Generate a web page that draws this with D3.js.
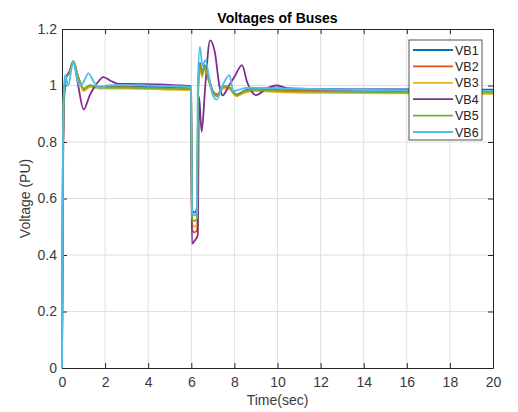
<!DOCTYPE html>
<html>
<head>
<meta charset="utf-8">
<script src="https://cdn.jsdelivr.net/npm/d3@7"></script>
<style>
  body { margin: 0; background: #fff; }
  svg { display: block; font-family: "Liberation Sans", Arial, sans-serif; }
</style>
</head>
<body>
<svg id="chart" width="518" height="412"></svg>
<script>
// ---- data: [time (s), voltage (pu)] ----
const seriesNames = ["VB1", "VB2", "VB3", "VB4", "VB5", "VB6"];
const seriesColors = ["#0072BD", "#D95319", "#EDB120", "#7E2F8E", "#77AC30", "#4DBEEE"];

const vb1 = [[0,0],[0.04,0.7],[0.1,0.98],[0.2,1.03],[0.35,1.045],[0.52,1.085],[0.75,1.03],[1.0,0.988],[1.3,1.0],[1.7,0.996],[2.2,0.996],[3,0.997],[4,0.995],[5,0.993],[5.99,0.99],
  [6.03,0.56],[6.15,0.55],[6.27,0.57],[6.32,1.0],[6.4,1.08],[6.5,1.045],[6.62,1.072],[6.8,1.03],[7.0,0.98],[7.2,0.968],[7.5,0.996],[7.7,0.996],[8.1,0.968],[8.5,0.983],[9,0.99],[10,0.99],[12,0.987],[16,0.986],[20,0.985]];
const vb2 = [[0,0],[0.04,0.7],[0.1,0.98],[0.2,1.03],[0.35,1.045],[0.52,1.085],[0.75,1.03],[1.0,0.985],[1.3,0.998],[1.7,0.994],[2.2,0.993],[3,0.994],[4,0.992],[5,0.99],[5.99,0.988],
  [6.03,0.49],[6.15,0.48],[6.28,0.49],[6.32,1.0],[6.4,1.075],[6.5,1.04],[6.62,1.07],[6.8,1.03],[7.0,0.978],[7.2,0.966],[7.5,0.994],[7.7,0.994],[8.1,0.966],[8.5,0.98],[9,0.986],[10,0.984],[12,0.981],[16,0.979],[20,0.978]];
const vb3 = [[0,0],[0.04,0.7],[0.1,0.98],[0.2,1.03],[0.35,1.045],[0.52,1.085],[0.75,1.03],[1.0,0.98],[1.3,0.995],[1.7,0.99],[2.2,0.989],[3,0.989],[4,0.987],[5,0.985],[5.99,0.983],
  [6.03,0.51],[6.15,0.5],[6.28,0.51],[6.32,0.98],[6.4,1.065],[6.5,1.03],[6.62,1.06],[6.8,1.02],[7.0,0.972],[7.2,0.962],[7.5,0.99],[7.7,0.99],[8.1,0.962],[8.5,0.975],[9,0.98],[10,0.977],[12,0.974],[16,0.972],[20,0.97]];
const vb4 = [[0,0],[0.04,0.6],[0.1,0.95],[0.2,1.03],[0.35,1.05],[0.52,1.085],[0.75,1.0],[1.0,0.915],[1.3,0.968],[1.6,1.005],[1.92,1.03],[2.3,1.015],[2.6,1.006],[3.5,1.005],[4.5,1.004],[5.5,1.0],[5.99,0.998],
  [6.03,0.44],[6.15,0.45],[6.3,0.47],[6.36,0.96],[6.48,0.836],[6.65,1.0],[6.87,1.16],[7.1,1.115],[7.3,1.0],[7.45,0.965],[7.75,1.0],[8.0,1.03],[8.35,1.072],[8.6,1.01],[9.0,0.966],[9.5,0.99],[9.95,1.0],[10.5,0.99],[12,0.986],[16,0.985],[20,0.984]];
const vb5 = [[0,0],[0.04,0.7],[0.1,0.98],[0.2,1.03],[0.35,1.045],[0.52,1.085],[0.75,1.03],[1.0,0.99],[1.3,1.0],[1.7,0.995],[2.2,0.993],[3,0.993],[4,0.991],[5,0.989],[5.99,0.987],
  [6.03,0.53],[6.15,0.52],[6.27,0.53],[6.32,1.0],[6.4,1.07],[6.5,1.04],[6.62,1.068],[6.8,1.02],[7.0,0.975],[7.2,0.962],[7.5,0.998],[7.7,0.998],[8.1,0.965],[8.5,0.98],[9,0.985],[10,0.981],[12,0.978],[16,0.976],[20,0.975]];
const vb6 = [[0,0],[0.03,0.6],[0.08,0.97],[0.14,1.037],[0.29,1.0],[0.52,1.085],[0.8,1.0],[1.0,1.012],[1.22,1.043],[1.5,1.01],[1.76,0.99],[2.07,1.0],[3,1.002],[4,1.0],[5,0.998],[5.99,0.995],
  [6.03,0.55],[6.15,0.54],[6.26,0.55],[6.3,1.0],[6.4,1.137],[6.52,1.07],[6.65,1.09],[6.85,1.02],[7.0,0.965],[7.18,0.95],[7.45,1.0],[7.77,1.037],[7.95,0.98],[8.2,0.985],[8.6,0.992],[10,0.99],[14,0.984],[20,0.981]];

const allSeries = [vb1, vb2, vb3, vb4, vb5, vb6];

const xTicks = [0, 2, 4, 6, 8, 10, 12, 14, 16, 18, 20];
const yTicks = [0, 0.2, 0.4, 0.6, 0.8, 1, 1.2];

// ---- layout ----
const width = 518, height = 412;
const margin = { top: 29, right: 25, bottom: 44, left: 62 };
const axisColor = "#262626";

const svg = d3.select("#chart");

const x = d3.scaleLinear().domain([0, 20]).range([margin.left, width - margin.right]);
const y = d3.scaleLinear().domain([0, 1.2]).range([height - margin.bottom, margin.top]);

// grid lines
svg.append("g")
  .selectAll("line.vgrid")
  .data(xTicks.slice(1, -1))
  .join("line")
    .attr("x1", d => x(d)).attr("x2", d => x(d))
    .attr("y1", y(0)).attr("y2", y(1.2))
    .attr("stroke", "#dfdfdf").attr("stroke-width", 1);

svg.append("g")
  .selectAll("line.hgrid")
  .data(yTicks.slice(1, -1))
  .join("line")
    .attr("x1", x(0)).attr("x2", x(20))
    .attr("y1", d => y(d)).attr("y2", d => y(d))
    .attr("stroke", "#dfdfdf").attr("stroke-width", 1);

// axes (MATLAB-style: ticks inside, box on)
const xAxis = svg.append("g")
  .attr("transform", `translate(0,${y(0)})`)
  .call(d3.axisBottom(x).tickValues(xTicks).tickSizeInner(-5).tickSizeOuter(0).tickPadding(9).tickFormat(d3.format("d")));
const yAxis = svg.append("g")
  .attr("transform", `translate(${x(0)},0)`)
  .call(d3.axisLeft(y).tickValues(yTicks).tickSizeInner(-5).tickSizeOuter(0).tickPadding(5).tickFormat(d => d === 0 || d === 1 ? d3.format("d")(d) : d3.format(".1f")(d)));
const xTop = svg.append("g")
  .attr("transform", `translate(0,${y(1.2)})`)
  .call(d3.axisTop(x).tickValues(xTicks).tickSizeInner(-5).tickSizeOuter(0).tickFormat(""));
const yRight = svg.append("g")
  .attr("transform", `translate(${x(20)},0)`)
  .call(d3.axisRight(y).tickValues(yTicks).tickSizeInner(-5).tickSizeOuter(0).tickFormat(""));

[xAxis, yAxis, xTop, yRight].forEach(g => {
  g.select(".domain").attr("stroke", axisColor);
  g.selectAll(".tick line").attr("stroke", axisColor);
  g.selectAll(".tick text")
    .attr("fill", "#3a3a3a")
    .style("font-size", "14px")
    .style("font-family", "'Liberation Sans', Arial, sans-serif");
});

// series lines
const line = d3.line()
  .x(d => x(d[0]))
  .y(d => y(d[1]))
  .curve(d3.curveMonotoneX);

const plot = svg.append("g");
allSeries.forEach((s, i) => {
  plot.append("path")
    .datum(s)
    .attr("d", line)
    .attr("fill", "none")
    .attr("stroke", seriesColors[i])
    .attr("stroke-width", 1.8)
    .attr("stroke-linejoin", "round");
});

// title and axis labels
svg.append("text")
  .attr("x", (x(0) + x(20)) / 2).attr("y", 23)
  .attr("text-anchor", "middle")
  .style("font-size", "14px").style("font-weight", "bold")
  .attr("fill", "#000")
  .text("Voltages of Buses");

svg.append("text")
  .attr("x", (x(0) + x(20)) / 2).attr("y", 405)
  .attr("text-anchor", "middle")
  .style("font-size", "14px")
  .attr("fill", "#3a3a3a")
  .text("Time(sec)");

svg.append("text")
  .attr("transform", `translate(30,${(y(0) + y(1.2)) / 2}) rotate(-90)`)
  .attr("text-anchor", "middle")
  .style("font-size", "14px")
  .attr("fill", "#3a3a3a")
  .text("Voltage (PU)");

// legend
const legend = svg.append("g").attr("transform", "translate(409,40)");
legend.append("rect")
  .attr("width", 73).attr("height", 100)
  .attr("fill", "#fff").attr("stroke", axisColor).attr("stroke-width", 0.8);

seriesNames.forEach((name, i) => {
  const ly = 10 + i * 16.4;
  legend.append("line")
    .attr("x1", 4).attr("x2", 44)
    .attr("y1", ly).attr("y2", ly)
    .attr("stroke", seriesColors[i]).attr("stroke-width", 1.8);
  legend.append("text")
    .attr("x", 46).attr("y", ly + 4.5)
    .style("font-size", "12.5px")
    .attr("fill", "#222")
    .text(name);
});
</script>
</body>
</html>
